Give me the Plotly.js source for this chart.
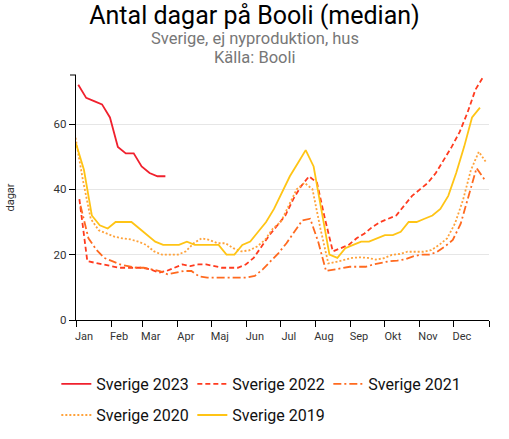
<!DOCTYPE html>
<html>
<head>
<meta charset="utf-8">
<script src="https://cdn.plot.ly/plotly-3.0.1.min.js"></script>
<style>
  html, body { margin: 0; padding: 0; background: #fff; }
  #chart { width: 509px; height: 439px; }
</style>
</head>
<body>
<div id="chart"></div>
<script>
// Month tick labels (Swedish) and the day-of-year where each month starts
const monthLabels = ['Jan', 'Feb', 'Mar', 'Apr', 'Maj', 'Jun', 'Jul', 'Aug', 'Sep', 'Okt', 'Nov', 'Dec', ''];
const monthStartDays = [0, 31, 59, 90, 120, 151, 181, 212, 243, 273, 304, 334, 365];

// Series names and the day-of-year of each series' first weekly value
const seriesNames = ['Sverige 2023', 'Sverige 2022', 'Sverige 2021', 'Sverige 2020', 'Sverige 2019'];
const firstWeekDay = [2, 3, 4, -1, 0];

// Weekly median days on Booli
const v2023 = [72, 68, 67, 66, 62, 53, 51, 51, 47, 45, 44, 44];
const v2022 = [37, 18, 17.5, 17, 16.5, 16, 16, 16, 16, 15.5, 14.5, 15, 16, 17, 16.5, 17, 17, 16.5, 16, 16, 16, 17, 19, 22.5, 26, 29,
               32, 37, 41, 44, 42, 31, 21, 22, 23, 25, 26.5, 28.5, 30, 31, 32, 35, 38, 40, 42, 45, 49, 53, 57.5, 63.5, 70.5, 74.5];
const v2021 = [35, 25, 21.5, 19, 18, 17, 16.5, 16, 16, 15.5, 15, 14, 14.5, 15, 15, 13.3, 13, 13, 13, 13, 13, 13, 13.5, 15.5, 18, 20.5,
               23.5, 27, 30.5, 31, 24, 15, 15.5, 16, 16.3, 16.3, 16.3, 17, 17.5, 18, 18.2, 18.6, 19.5, 20, 20, 20.8, 22.5, 24.5, 29.5, 38, 46.5, 43];
const v2020 = [57, 43, 31, 27.5, 26.5, 25.5, 25, 24.7, 24, 23, 21, 20, 20, 20, 21, 23.5, 25, 24.5, 23.5, 23.5, 22, 21, 21.3, 22.5, 24.5, 28,
               30, 35, 40, 42, 40, 28, 17.3, 17.8, 18.4, 19, 19.2, 19, 18.5, 18.9, 19.9, 20.2, 20.9, 20.9, 20.9, 21.4, 23, 25, 29.6, 36.7, 45.9, 51.5, 48];
const v2019 = [54, 46, 32, 29, 28, 30, 30, 30, 28, 26, 24, 23, 23, 23, 24, 23, 23, 23, 23, 20, 20, 23, 24, 27, 30, 34,
               39, 44, 48, 52, 47, 33, 20, 19, 22, 23, 24, 24, 25, 26, 26, 27, 30, 30, 31, 32, 34, 38, 45, 53, 62, 65];

const seriesValues = [v2023, v2022, v2021, v2020, v2019];
const seriesColors = ['#f0202d', '#ff3b1f', '#ff6a1f', '#ffa23a', '#ffc415'];
const seriesDash = ['solid', '5px,3px', '8px,3px,2px,3px', '2px,2px', 'solid'];
const seriesLegend = ['legend', 'legend', 'legend', 'legend2', 'legend2'];

const traces = seriesNames.map((name, k) => ({
  type: 'scatter',
  mode: 'lines',
  name: name,
  x: seriesValues[k].map((_, i) => firstWeekDay[k] + 7 * i),
  y: seriesValues[k],
  line: { color: seriesColors[k], width: 1.8, dash: seriesDash[k] },
  legend: seriesLegend[k],
  hoverinfo: 'skip'
}));

const plotW = 413.6, plotH = 244.7;
const FONT = 'Roboto, "Noto Sans", Arial, sans-serif';

const layout = {
  width: 509,
  height: 439,
  margin: { l: 75.7, r: 19.7, t: 75.3, b: 119, autoexpand: false },
  paper_bgcolor: '#ffffff',
  plot_bgcolor: '#ffffff',
  font: { family: FONT, color: '#333' },
  showlegend: true,
  title: {
    text: 'Antal dagar på Booli (median)',
    font: { family: FONT, size: 25, color: '#000' },
    x: 0.5, xref: 'container', xanchor: 'center',
    y: 1 - 6 / 439, yref: 'container', yanchor: 'top'
  },
  annotations: [
    { text: 'Sverige, ej nyproduktion, hus', xref: 'paper', yref: 'paper',
      x: (254.5 - 75.7) / plotW, y: 1 + (75.3 - 38.5) / plotH, xanchor: 'center', yanchor: 'middle',
      showarrow: false, font: { family: FONT, size: 16.5, color: '#777' } },
    { text: 'Källa: Booli', xref: 'paper', yref: 'paper',
      x: (254.5 - 75.7) / plotW, y: 1 + (75.3 - 57.5) / plotH, xanchor: 'center', yanchor: 'middle',
      showarrow: false, font: { family: FONT, size: 16.5, color: '#777' } }
  ],
  xaxis: {
    range: [0, 365],
    tickmode: 'array',
    tickvals: monthStartDays,
    ticktext: monthLabels,
    ticks: 'outside',
    ticklen: 6,
    tickcolor: '#000',
    tickwidth: 1,
    ticklabelshift: 8,
    showgrid: false,
    zeroline: false,
    showline: true,
    linecolor: '#000',
    linewidth: 1.2,
    tickfont: { family: FONT, size: 11, color: '#333' },
    fixedrange: true
  },
  yaxis: {
    range: [0, 75],
    tickmode: 'array',
    tickvals: [0, 20, 40, 60],
    ticks: 'outside',
    ticklen: 6,
    tickcolor: '#000',
    tickwidth: 1,
    showgrid: true,
    gridcolor: '#e6e6e6',
    gridwidth: 1,
    zeroline: false,
    showline: true,
    linecolor: '#000',
    linewidth: 1.2,
    tickfont: { family: FONT, size: 11.5, color: '#333' },
    title: { text: 'dagar', font: { family: FONT, size: 11, color: '#333' }, standoff: 36 },
    fixedrange: true
  },
  shapes: [
    { type: 'line', xref: 'paper', yref: 'paper', x0: -6 / plotW, x1: 0, y0: 1, y1: 1,
      line: { color: '#000', width: 1 } }
  ],
  legend: {
    orientation: 'h',
    x: (56 - 75.7) / plotW, xanchor: 'left',
    y: (320 - 367) / plotH, yanchor: 'top',
    entrywidth: 91,
    font: { family: FONT, size: 16, color: '#111' },
    bgcolor: 'rgba(0,0,0,0)',
    borderwidth: 0
  },
  legend2: {
    orientation: 'h',
    x: (56 - 75.7) / plotW, xanchor: 'left',
    y: (320 - 398) / plotH, yanchor: 'top',
    entrywidth: 91,
    font: { family: FONT, size: 16, color: '#111' },
    bgcolor: 'rgba(0,0,0,0)',
    borderwidth: 0
  }
};

Plotly.newPlot('chart', traces, layout, { displayModeBar: false, staticPlot: true });
</script>
</body>
</html>
